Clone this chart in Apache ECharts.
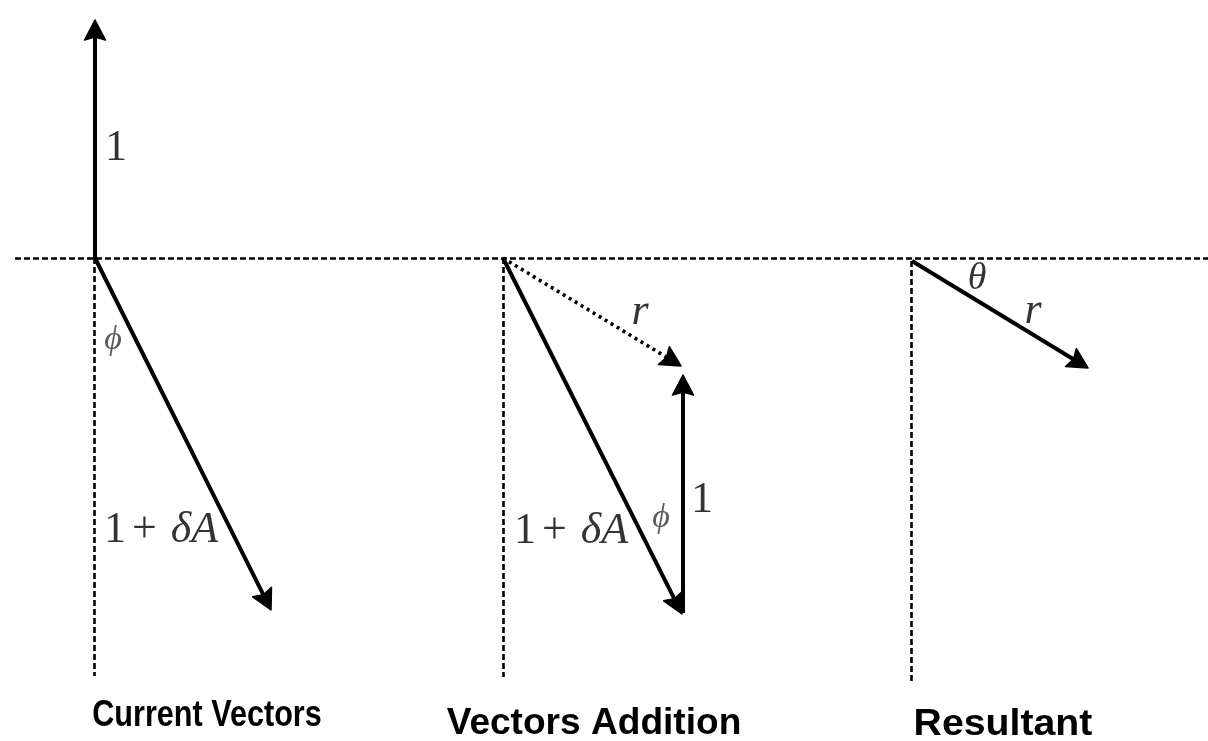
<!DOCTYPE html>
<html>
<head>
<meta charset="utf-8">
<script src="https://cdn.jsdelivr.net/npm/echarts@6/dist/echarts.min.js"></script>
<style>
html,body{margin:0;padding:0;background:#fff;}
#chart{width:1208px;height:741px;}
</style>
</head>
<body>
<div id="chart"></div>
<script>
// Diagram coordinate extents (diagram units, y grows downward)
const xExtent = [0, 1208];
const yExtent = [0, 741];

// Dashed reference lines: horizontal real axis and the three vertical guides
const guideLines = [
  [[15, 258], [1208, 258]],
  [[94, 258], [94, 676]],
  [[503, 258], [503, 677]],
  [[911, 261], [911, 682]]
];

// Solid vectors [x0, y0, xTip, yTip]
const solidVectors = [
  [95, 258, 95, 20],     // panel 1: unit vector "1"
  [95, 258, 271, 610],   // panel 1: 1 + δA
  [503, 258, 682, 614],  // panel 2: 1 + δA
  [683, 613, 683, 375],  // panel 2: unit vector "1"
  [912, 261, 1088, 368]  // panel 3: resultant r
];

// Dotted vector (sum r in panel 2) [x0, y0, xTip, yTip]
const dottedVectors = [
  [503, 258, 681, 366]
];

// Math annotations: [x, y, key]
const mathLabels = [
  [116, 148, 'one'],
  [113, 340, 'phi'],
  [161, 530, 'oneDeltaA'],
  [640, 312, 'r'],
  [571, 531, 'oneDeltaA'],
  [661, 518, 'phi'],
  [702, 500, 'one'],
  [977, 279, 'theta'],
  [1033, 311, 'r']
];

// Panel captions: [x, y, text, horizontal squeeze]
const captions = [
  [207, 716, 'Current Vectors', 0.85],
  [594, 724, 'Vectors Addition', 1.03],
  [1003, 725, 'Resultant', 1.09]
];

const labelText = {
  one: '{n|1}',
  phi: '{p|\u03d5}',
  oneDeltaA: '{n|1}{plus|+}{i|\u03b4A}',
  r: '{i|r}',
  theta: '{t|\u03b8}'
};

const serif = '"Liberation Serif", "DejaVu Serif", serif';
const chart = echarts.init(document.getElementById('chart'), null, {renderer: 'canvas'});

function vectorRenderer(lineWidth, dash) {
  const headLen = 20, headHalf = 10.5, notch = 17;
  return function (params, api) {
    const p0 = api.coord([api.value(0), api.value(1)]);
    const p1 = api.coord([api.value(2), api.value(3)]);
    const dx = p1[0] - p0[0], dy = p1[1] - p0[1];
    const len = Math.sqrt(dx * dx + dy * dy) || 1;
    const ux = dx / len, uy = dy / len;
    const nx = -uy, ny = ux;
    const bx = p1[0] - ux * headLen, by = p1[1] - uy * headLen;
    return {
      type: 'group',
      children: [
        {
          type: 'line',
          shape: {x1: p0[0], y1: p0[1], x2: p1[0] - ux * notch, y2: p1[1] - uy * notch},
          style: {stroke: '#000', lineWidth: lineWidth, lineDash: dash, fill: null}
        },
        {
          type: 'polygon',
          shape: {points: [
            [p1[0], p1[1]],
            [bx + nx * headHalf, by + ny * headHalf],
            [p1[0] - ux * notch, p1[1] - uy * notch],
            [bx - nx * headHalf, by - ny * headHalf]
          ]},
          style: {fill: '#000', stroke: '#000', lineWidth: 1.5, lineJoin: 'round'}
        }
      ]
    };
  };
}

const option = {
  backgroundColor: '#ffffff',
  animation: false,
  grid: {left: 0, right: 0, top: 0, bottom: 0},
  xAxis: {type: 'value', min: xExtent[0], max: xExtent[1], show: false},
  yAxis: {type: 'value', min: yExtent[0], max: yExtent[1], inverse: true, show: false},
  series: [
    {
      type: 'lines',
      coordinateSystem: 'cartesian2d',
      silent: true,
      symbol: ['none', 'none'],
      lineStyle: {color: '#000', width: 2.6, type: [6, 3], opacity: 1},
      data: guideLines.map(c => ({coords: c}))
    },
    {
      type: 'custom',
      silent: true,
      renderItem: vectorRenderer(4, null),
      encode: {x: [0, 2], y: [1, 3]},
      data: solidVectors
    },
    {
      type: 'custom',
      silent: true,
      renderItem: vectorRenderer(3.6, [3, 4]),
      encode: {x: [0, 2], y: [1, 3]},
      data: dottedVectors
    },
    {
      type: 'scatter',
      silent: true,
      symbolSize: 0,
      itemStyle: {color: '#000'},
      data: mathLabels.map(d => ({value: [d[0], d[1]], name: d[2]})),
      label: {
        show: true,
        position: 'inside',
        align: 'center',
        verticalAlign: 'middle',
        color: '#000',
        textBorderWidth: 0,
        formatter: p => labelText[p.name],
        rich: {
          n: {fontFamily: serif, fontSize: 44, color: '#000', textBorderWidth: 0},
          plus: {fontFamily: serif, fontSize: 44, color: '#000', textBorderWidth: 0, padding: [0, 14, 0, 6]},
          i: {fontFamily: serif, fontSize: 44, fontStyle: 'italic', color: '#000', textBorderWidth: 0},
          p: {fontFamily: serif, fontSize: 34, fontStyle: 'italic', color: '#333', textBorderWidth: 0},
          t: {fontFamily: serif, fontSize: 38, fontStyle: 'italic', color: '#000', textBorderWidth: 0}
        }
      }
    }
  ],
  graphic: captions.map(c => ({
    type: 'text',
    x: c[0],
    y: c[1],
    scaleX: c[3],
    silent: true,
    style: {
      text: c[2],
      font: 'bold 36px "Liberation Sans", Arial, sans-serif',
      fill: '#000',
      align: 'center',
      verticalAlign: 'middle'
    }
  }))
};

chart.setOption(option);
</script>
</body>
</html>
